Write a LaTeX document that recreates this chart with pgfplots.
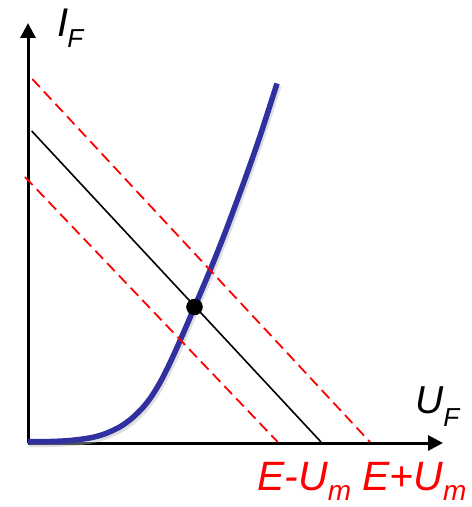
\documentclass[border=0pt]{standalone}
\usepackage{fontspec}
\setmainfont{Liberation Sans}
\usepackage{pgfplots}
\pgfplotsset{compat=1.18}
\usetikzlibrary{arrows.meta}
\definecolor{curveblue}{RGB}{48,48,160}
\definecolor{shadowgray}{RGB}{185,185,185}

% diode characteristic I_F(U_F)
\pgfplotstableread{
x y
0 1.5
22 1.5
42 2.5
62 5.1
77 9.2
92 16.2
104 24.8
115 35.6
124 47.3
133 62.2
142 80.2
151 100
159 118.4
166.5 136
178 163
187 184.8
199 215.4
217 264
232 306.8
249 359.5
}\diode

\begin{document}
\begin{tikzpicture}
\begin{axis}[
  x=1pt, y=1pt,
  xmin=0, xmax=415, ymin=0, ymax=420,
  axis lines=left,
  axis line style={line width=3pt, -{Triangle[length=15pt,width=15pt]}},
  ticks=none,
  clip=false,
  anchor=origin, at={(0,0)},
]
% soft shadow under the characteristic
\addplot[shadowgray, opacity=0.45, line width=6pt, smooth, xshift=1.5pt, yshift=-2.5pt] table {\diode};
\addplot[curveblue, line width=5.5pt, smooth] table {\diode};

% load line and its shifted copies for E-U_m and E+U_m
\addplot[black, line width=1.6pt] coordinates {(3.7,312) (293,1)};
\addplot[red, line width=1.8pt, dash pattern=on 11pt off 6pt] coordinates {(4.3,364) (342,1)};
\addplot[red, line width=1.8pt, dash pattern=on 11pt off 6pt] coordinates {(-3,266) (249.7,1)};

% operating point
\addplot[only marks, mark=*, mark size=8pt, black] coordinates {(166.5,136)};

% axis names
\node[anchor=base west, inner sep=0pt] at (axis cs:29,406)
  {\fontsize{40}{40}\selectfont\itshape I\kern-1pt\raisebox{-11pt}{\fontsize{26}{26}\selectfont F}};
\node[anchor=base west, inner sep=0pt] at (axis cs:387,30)
  {\fontsize{39}{39}\selectfont\itshape U\raisebox{-13pt}{\fontsize{26}{26}\selectfont F}};

% labels of the intercepts
\node[anchor=base west, inner sep=0pt, text=red] at (axis cs:229,-47)
  {\fontsize{41}{41}\selectfont\itshape E-U\raisebox{-10pt}{\fontsize{28}{28}\selectfont m}};
\node[anchor=base west, inner sep=0pt, text=red] at (axis cs:334,-47)
  {\fontsize{41}{41}\selectfont\itshape E+U\raisebox{-10pt}{\fontsize{28}{28}\selectfont m}};
\end{axis}
\pgfresetboundingbox
\path[use as bounding box] (-28pt,-64pt) rectangle (444pt,443pt);
\end{tikzpicture}
\end{document}
